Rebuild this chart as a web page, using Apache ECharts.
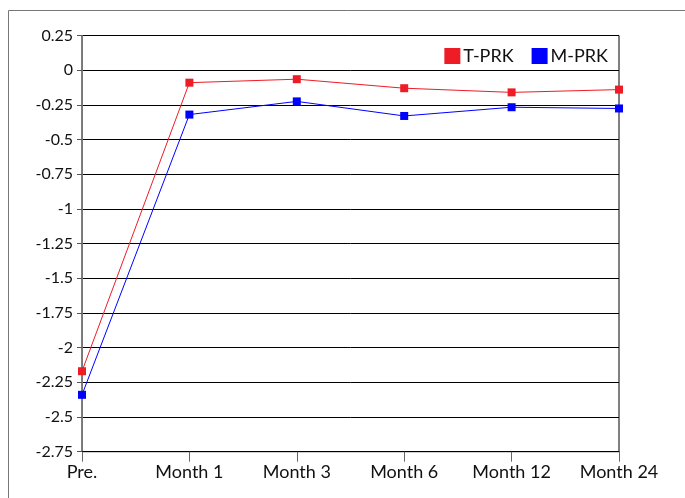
<!DOCTYPE html>
<html>
<head>
<meta charset="utf-8">
<script src="https://cdn.jsdelivr.net/npm/echarts@6/dist/echarts.min.js"></script>
<style>html,body{margin:0;padding:0;background:#fff}#c{width:685px;height:498px}</style>
</head>
<body>
<div id="c"></div>
<script>
var categories = ['Pre.', 'Month 1', 'Month 3', 'Month 6', 'Month 12', 'Month 24'];
var tprk = [-2.17, -0.09, -0.065, -0.13, -0.16, -0.14];
var mprk = [-2.34, -0.32, -0.225, -0.33, -0.267, -0.276];
var yMin = -2.75, yMax = 0.25, yStep = 0.25;

var font = 'Lato, "Open Sans", sans-serif';
var chart = echarts.init(document.getElementById('c'), null, {renderer: 'canvas'});
chart.setOption({
  animation: false,
  backgroundColor: '#fff',
  textStyle: {fontFamily: font},
  graphic: [{
    type: 'rect', shape: {x: 8.5, y: 10.5, width: 800, height: 700},
    style: {fill: 'none', stroke: '#777', lineWidth: 1}, z: -10
  }],
  grid: {left: 82, right: 66, top: 35.5, bottom: 46.3, show: true, borderColor: '#000', borderWidth: 1, backgroundColor: 'transparent'},
  legend: {
    right: 72, top: 42, itemWidth: 16, itemHeight: 16, itemGap: 18, icon: 'rect',
    textStyle: {fontFamily: font, fontSize: 18, color: '#111', padding: [0,0,0,-2]},
    data: ['T-PRK', 'M-PRK']
  },
  xAxis: {
    type: 'category', data: categories, boundaryGap: false,
    axisLine: {show: true, onZero: false, lineStyle: {color: '#000', width: 1}},
    axisTick: {show: true, length: 10, alignWithLabel: true, lineStyle: {color: '#666'}},
    axisLabel: {fontFamily: font, fontSize: 18, color: '#111', margin: 11, interval: 0},
    splitLine: {show: false}
  },
  yAxis: {
    type: 'value', min: yMin, max: yMax, interval: yStep,
    axisLine: {show: true, lineStyle: {color: '#777', width: 1}},
    axisTick: {show: true, length: 5, lineStyle: {color: '#555'}},
    axisLabel: {fontFamily: font, fontSize: 16, color: '#111', margin: 9},
    splitLine: {show: true, lineStyle: {color: '#000', width: 1}}
  },
  series: [{
    name: 'T-PRK', type: 'line', data: tprk,
    symbol: 'rect', symbolSize: 8,
    itemStyle: {color: '#ee1c25'}, lineStyle: {color: '#ee1c25', width: 1}
  }, {
    name: 'M-PRK', type: 'line', data: mprk,
    symbol: 'rect', symbolSize: 8,
    itemStyle: {color: '#0000ff'}, lineStyle: {color: '#0000ff', width: 1}
  }]
});
</script>
</body>
</html>
